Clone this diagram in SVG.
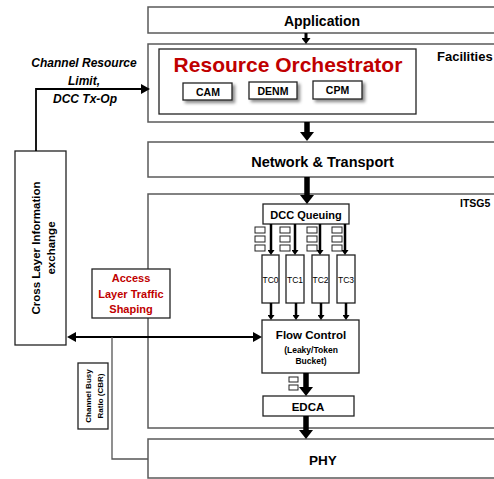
<svg xmlns="http://www.w3.org/2000/svg" width="494" height="479" viewBox="0 0 494 479">
<style>
  text { font-family: "Liberation Sans", Arial, sans-serif; font-weight: bold; fill: #000; }
  text.tc { font-weight: normal; font-size: 8.5px; }
  .layer { fill: #fff; stroke: #5a5a5a; stroke-width: 1.5; }
  .box { fill: #fff; stroke: #222; stroke-width: 1.3; }
  .msg { fill: #fff; stroke: #222; stroke-width: 1.3; filter: url(#shadow); }
  .q { fill: #fff; stroke: #222; stroke-width: 1; }
  .red { fill: #c00000; }
  .mid { text-anchor: middle; }
  .big { stroke: #000; stroke-width: 5.5; fill: none; marker-end: url(#hBig); }
  .med { stroke: #000; stroke-width: 3; fill: none; marker-end: url(#hMed); }
  .sm { stroke: #000; stroke-width: 2.5; fill: none; marker-end: url(#hSm); }
  .thin { stroke: #000; stroke-width: 1.8; fill: none; }
  .gray { stroke: #555; stroke-width: 1.3; fill: none; }
</style>
<defs>
  <marker id="hBig" markerUnits="userSpaceOnUse" markerWidth="9" markerHeight="14" viewBox="0 0 9 14" refX="1" refY="7" orient="auto">
    <path d="M0,0 L9,7 L0,14 z" fill="#000"/>
  </marker>
  <marker id="hMed" markerUnits="userSpaceOnUse" markerWidth="6" markerHeight="9" viewBox="0 0 6 9" refX="1" refY="4.5" orient="auto">
    <path d="M0,0 L6,4.5 L0,9 z" fill="#000"/>
  </marker>
  <marker id="hSm" markerUnits="userSpaceOnUse" markerWidth="5" markerHeight="7" viewBox="0 0 5 7" refX="1" refY="3.5" orient="auto">
    <path d="M0,0 L5,3.5 L0,7 z" fill="#000"/>
  </marker>
  <marker id="hThin" markerUnits="userSpaceOnUse" markerWidth="9" markerHeight="10" viewBox="0 0 9 10" refX="1" refY="5" orient="auto-start-reverse">
    <path d="M0,0 L9,5 L0,10 z" fill="#000"/>
  </marker>
  <filter id="shadow" x="-20%" y="-30%" width="150%" height="180%">
    <feDropShadow dx="2.5" dy="2.5" stdDeviation="1.5" flood-color="#000" flood-opacity="0.45"/>
  </filter>
</defs>

<g id="application">
  <rect class="layer" x="148" y="7" width="360" height="26"/>
  <text class="mid" x="322" y="26" font-size="14">Application</text>
</g>

<g id="facilities">
  <rect class="layer" x="148" y="44" width="360" height="78"/>
  <text x="437" y="61" font-size="13">Facilities</text>
</g>

<g id="resource-orchestrator">
  <rect class="box" x="159" y="49" width="257" height="65" stroke="#555"/>
  <text class="mid red" x="288" y="72" font-size="21">Resource Orchestrator</text>
</g>

<g id="cam">
  <rect class="msg" x="183" y="83" width="49" height="17"/>
  <text class="mid" x="208" y="96" font-size="10.5">CAM</text>
</g>
<g id="denm">
  <rect class="msg" x="249" y="82" width="48" height="17"/>
  <text class="mid" x="273" y="95" font-size="10.5">DENM</text>
</g>
<g id="cpm">
  <rect class="msg" x="313" y="81" width="49" height="18"/>
  <text class="mid" x="337.5" y="94" font-size="10.5">CPM</text>
</g>

<g id="network-transport">
  <rect class="layer" x="148" y="142" width="360" height="35"/>
  <text class="mid" x="322.5" y="167" font-size="14.5">Network &amp; Transport</text>
</g>

<g id="itsg5">
  <rect class="layer" x="148" y="194" width="360" height="234"/>
  <text x="460" y="207" font-size="10.5">ITSG5</text>
</g>

<g id="phy">
  <rect class="layer" x="148" y="439" width="360" height="39"/>
  <text class="mid" x="323" y="465" font-size="13.5">PHY</text>
</g>

<g id="cross-layer">
  <rect class="box" x="15" y="151" width="51" height="194" stroke="#111"/>
  <g transform="translate(40,248) rotate(-90)">
    <text class="mid" x="0" y="0" font-size="11.5">Cross Layer Information</text>
    <text class="mid" x="0" y="15" font-size="11.5">exchange</text>
  </g>
</g>

<g id="access-layer-traffic-shaping">
  <rect class="box" x="92" y="269" width="78" height="49" stroke="#555"/>
  <text class="mid red" x="131" y="282" font-size="11">Access</text>
  <text class="mid red" x="131" y="298" font-size="11">Layer Traffic</text>
  <text class="mid red" x="131" y="313" font-size="11">Shaping</text>
</g>

<g id="cbr">
  <rect class="box" x="78" y="363" width="30" height="66"/>
  <g transform="translate(93,396) rotate(-90)">
    <text class="mid" x="0" y="-2" font-size="8">Channel Busy</text>
    <text class="mid" x="0" y="10" font-size="8">Ratio (CBR)</text>
  </g>
</g>

<g id="dcc-queuing">
  <rect class="box" x="263" y="204" width="86" height="20"/>
  <text class="mid" x="306" y="219" font-size="11">DCC Queuing</text>
</g>

<g id="queues">
  <rect class="q" x="255" y="227" width="10" height="6"/>
  <rect class="q" x="255" y="236" width="10" height="6"/>
  <rect class="q" x="255" y="245" width="10" height="6"/>
  <rect class="q" x="280" y="227" width="10" height="6"/>
  <rect class="q" x="280" y="236" width="10" height="6"/>
  <rect class="q" x="280" y="245" width="10" height="6"/>
  <rect class="q" x="307" y="227" width="10" height="6"/>
  <rect class="q" x="307" y="236" width="10" height="6"/>
  <rect class="q" x="307" y="245" width="10" height="6"/>
  <rect class="q" x="332" y="227" width="10" height="6"/>
  <rect class="q" x="332" y="236" width="10" height="6"/>
  <rect class="q" x="332" y="245" width="10" height="6"/>
  <rect class="q" x="289" y="377" width="9" height="5"/>
  <rect class="q" x="289" y="385" width="9" height="5"/>
</g>

<g id="tc0">
  <rect class="box" x="262" y="255" width="17" height="48" stroke="#444"/>
  <text class="mid tc" x="270.5" y="283">TC0</text>
</g>
<g id="tc1">
  <rect class="box" x="286" y="255" width="18" height="48" stroke="#444"/>
  <text class="mid tc" x="295" y="283">TC1</text>
</g>
<g id="tc2">
  <rect class="box" x="312" y="255" width="17" height="48" stroke="#444"/>
  <text class="mid tc" x="320.5" y="283">TC2</text>
</g>
<g id="tc3">
  <rect class="box" x="337" y="255" width="18" height="48" stroke="#444"/>
  <text class="mid tc" x="346" y="283">TC3</text>
</g>

<g id="flow-control">
  <rect class="box" x="262" y="320" width="97" height="53"/>
  <text class="mid" x="311" y="339" font-size="11.5">Flow Control</text>
  <text class="mid" x="311" y="353" font-size="8.5">(Leaky/Token</text>
  <text class="mid" x="311" y="364" font-size="8.5">Bucket)</text>
</g>

<g id="edca">
  <rect class="box" x="263" y="396" width="91" height="20" stroke="#444"/>
  <text class="mid" x="308" y="411" font-size="11.5">EDCA</text>
</g>

<g id="connectors">
  <line class="med" x1="306" y1="33" x2="306" y2="39"/>
  <line class="big" x1="307" y1="122" x2="307" y2="133"/>
  <line class="big" x1="307" y1="177" x2="307" y2="196"/>
  <line class="sm" x1="271" y1="224" x2="271" y2="251"/>
  <line class="sm" x1="295" y1="224" x2="295" y2="251"/>
  <line class="sm" x1="320" y1="224" x2="320" y2="251"/>
  <line class="sm" x1="345" y1="224" x2="345" y2="251"/>
  <line class="sm" x1="271" y1="303" x2="271" y2="316"/>
  <line class="sm" x1="296" y1="303" x2="296" y2="316"/>
  <line class="sm" x1="321" y1="303" x2="321" y2="316"/>
  <line class="sm" x1="346" y1="303" x2="346" y2="316"/>
  <line class="big" x1="306" y1="373" x2="306" y2="388"/>
  <line class="big" x1="306" y1="416" x2="306" y2="431"/>
  <path class="thin" d="M36,151 V89 H142" marker-end="url(#hThin)"/>
  <line class="thin" x1="75" y1="337" x2="254" y2="337" marker-start="url(#hThin)" marker-end="url(#hThin)"/>
  <path class="gray" d="M112,337 V459 H148"/>
</g>

<g id="label-channel-resource">
  <text class="mid" x="84" y="67" font-size="12" font-style="italic">Channel Resource</text>
  <text class="mid" x="84" y="85" font-size="12" font-style="italic">Limit,</text>
  <text class="mid" x="85" y="103" font-size="12" font-style="italic">DCC Tx-Op</text>
</g>
</svg>
